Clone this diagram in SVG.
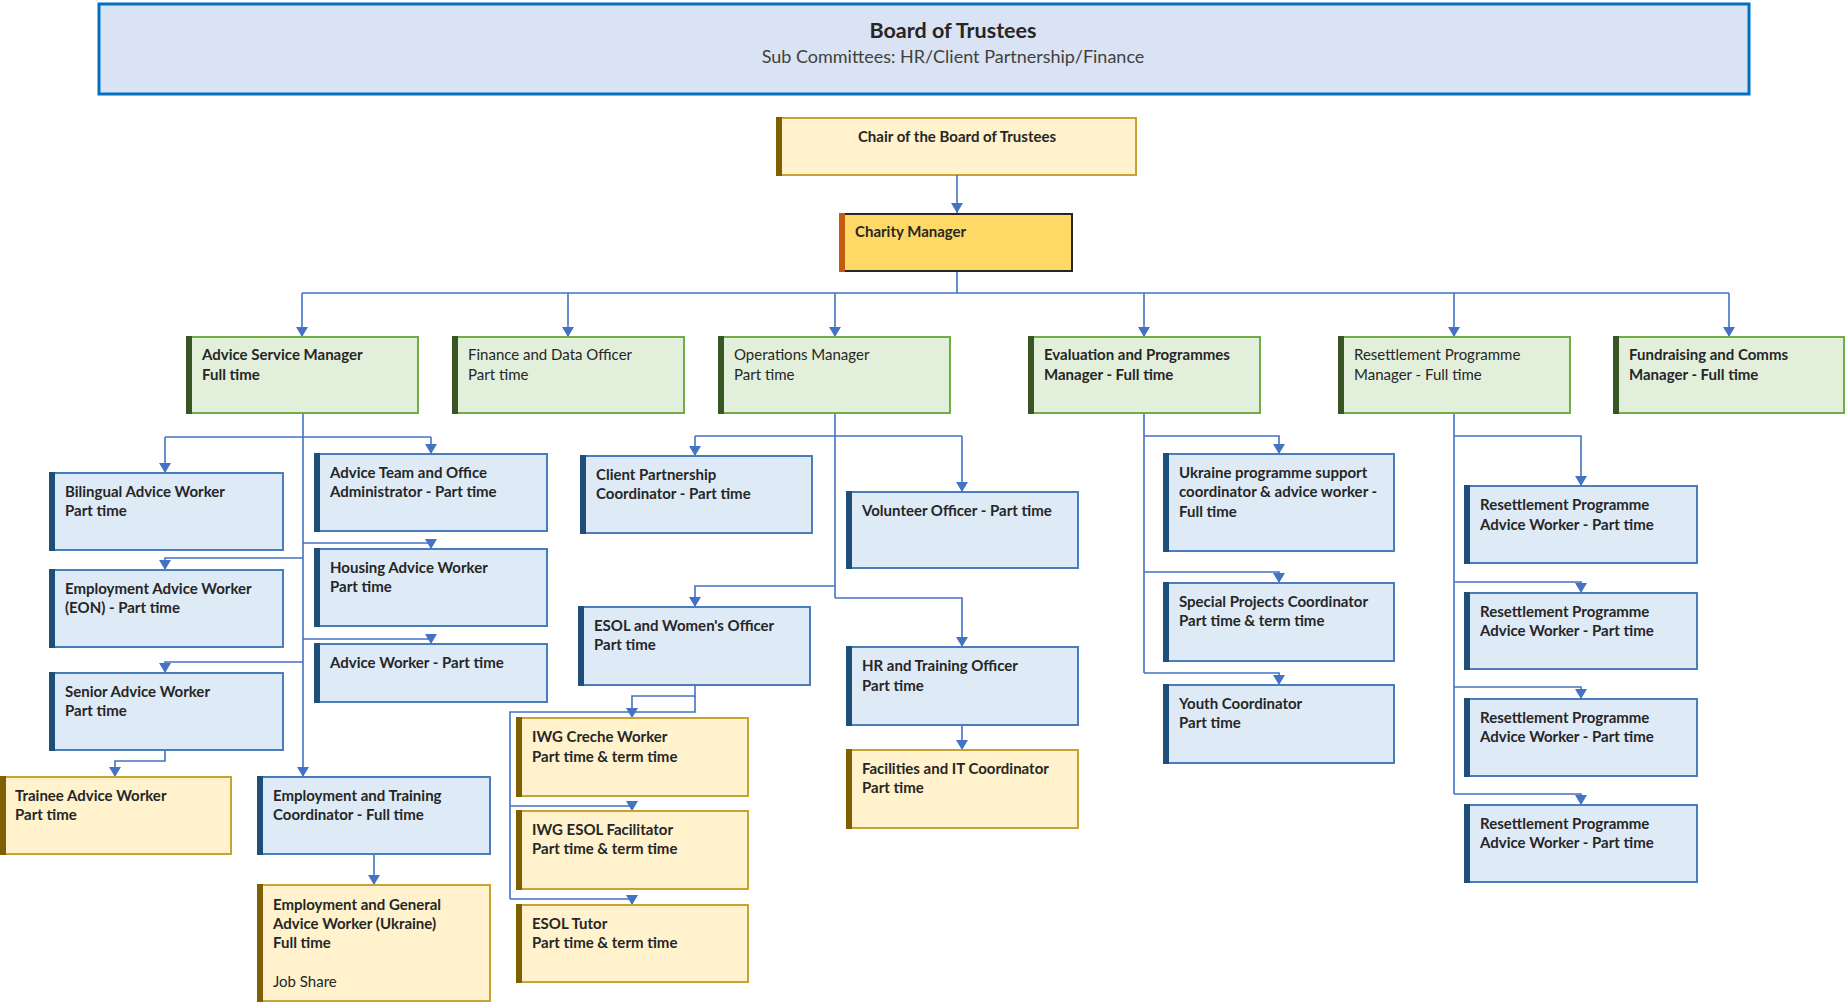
<svg xmlns="http://www.w3.org/2000/svg" width="1845" height="1003" viewBox="0 0 1845 1003">
<defs>
<marker id="arr" markerUnits="userSpaceOnUse" markerWidth="10" markerHeight="12" viewBox="0 0 10 12" refX="10" refY="6" orient="auto">
<path d="M0,0 L10,6 L0,12 Z" fill="#4472c4"/>
</marker>
<style>
text{font-family:Lato,"Liberation Sans",sans-serif;fill:#262626;font-size:15px}
.b{font-weight:bold}
.r{font-weight:normal;fill:#262626}
.green{fill:#e2efda;stroke:#70ad47;stroke-width:2}
.gbar{fill:#375623}
.blue{fill:#deeaf6;stroke:#4a7ebb;stroke-width:2}
.bbar{fill:#1f4e79}
.yel{fill:#fff2cc;stroke:#c9a234;stroke-width:2}
.ybar{fill:#7f6000}
.con path{fill:none;stroke:#4472c4;stroke-width:1.6}
.con .a{marker-end:url(#arr)}
</style>
</defs>
<rect width="1845" height="1003" fill="#ffffff"/>

<g id="board">
<rect x="99" y="4" width="1650" height="90" fill="#dae3f3" stroke="#0070c0" stroke-width="3"/>
<text x="953" y="38" text-anchor="middle" class="b" style="font-size:21.5px">Board of Trustees</text>
<text x="953" y="63" text-anchor="middle" style="font-size:18px;fill:#404040">Sub Committees: HR/Client Partnership/Finance</text>
</g>

<g id="chair">
<rect x="777" y="118" width="359" height="57" class="yel"/>
<rect x="776" y="117" width="6" height="59" class="ybar"/>
<text x="957" y="142" text-anchor="middle" class="b">Chair of the Board of Trustees</text>
</g>

<g id="charity">
<rect x="840" y="214" width="232" height="57" fill="#ffd966" stroke="#262626" stroke-width="2"/>
<rect x="839" y="213" width="6" height="59" fill="#c55a11"/>
<text x="855" y="237" class="b">Charity Manager</text>
</g>

<g class="con" id="connectors">
<path d="M957,175 V213" class="a"/>
<path d="M957,272 V293 M302,293 H1729"/>
<path d="M302,293 V337" class="a"/>
<path d="M568,293 V337" class="a"/>
<path d="M835,293 V337" class="a"/>
<path d="M1144,293 V337" class="a"/>
<path d="M1454,293 V337" class="a"/>
<path d="M1729,293 V337" class="a"/>
<!-- ASM subtree -->
<path d="M303,413 V777" class="a"/>
<path d="M165,437 H431"/>
<path d="M165,437 V473" class="a"/>
<path d="M431,437 V454" class="a"/>
<path d="M303,543 H431 V549" class="a"/>
<path d="M303,558 H165 V570" class="a"/>
<path d="M303,639 H431 V644" class="a"/>
<path d="M303,662 H165 V673" class="a"/>
<path d="M165,750 V761 H115 V777" class="a"/>
<path d="M374,854 V885" class="a"/>
<!-- Ops subtree -->
<path d="M835,413 V598"/>
<path d="M695,436 H962"/>
<path d="M695,436 V456" class="a"/>
<path d="M962,436 V492" class="a"/>
<path d="M835,586 H695 V607" class="a"/>
<path d="M835,598 H962 V647" class="a"/>
<path d="M962,725 V750" class="a"/>
<path d="M695,685 V696 H632 V718" class="a"/>
<path d="M695,696 V712 H510 V899"/>
<path d="M510,806 H632 V811" class="a"/>
<path d="M510,899 H632 V905" class="a"/>
<!-- Eval subtree -->
<path d="M1144,413 V673"/>
<path d="M1144,436 H1279 V454" class="a"/>
<path d="M1144,572 H1279 V583" class="a"/>
<path d="M1144,673 H1279 V685" class="a"/>
<!-- Resettlement subtree -->
<path d="M1454,413 V794"/>
<path d="M1454,436 H1581 V486" class="a"/>
<path d="M1454,582 H1581 V593" class="a"/>
<path d="M1454,687 H1581 V699" class="a"/>
<path d="M1454,794 H1581 V805" class="a"/>
</g>

<!-- Green managers -->
<g id="asm"><rect x="187" y="337" width="231" height="76" class="green"/><rect x="186" y="336" width="6" height="78" class="gbar"/>
<text x="202" y="360" class="b">Advice Service Manager</text><text x="202" y="380" class="b">Full time</text></g>
<g id="finance"><rect x="453" y="337" width="231" height="76" class="green"/><rect x="452" y="336" width="6" height="78" class="gbar"/>
<text x="468" y="360" class="r">Finance and Data Officer</text><text x="468" y="380" class="r">Part time</text></g>
<g id="ops"><rect x="719" y="337" width="231" height="76" class="green"/><rect x="718" y="336" width="6" height="78" class="gbar"/>
<text x="734" y="360" class="r">Operations Manager</text><text x="734" y="380" class="r">Part time</text></g>
<g id="eval"><rect x="1029" y="337" width="231" height="76" class="green"/><rect x="1028" y="336" width="6" height="78" class="gbar"/>
<text x="1044" y="360" class="b">Evaluation and Programmes</text><text x="1044" y="380" class="b">Manager - Full time</text></g>
<g id="rpm"><rect x="1339" y="337" width="231" height="76" class="green"/><rect x="1338" y="336" width="6" height="78" class="gbar"/>
<text x="1354" y="360" class="r">Resettlement Programme</text><text x="1354" y="380" class="r">Manager - Full time</text></g>
<g id="fund"><rect x="1614" y="337" width="230" height="76" class="green"/><rect x="1613" y="336" width="6" height="78" class="gbar"/>
<text x="1629" y="360" class="b">Fundraising and Comms</text><text x="1629" y="380" class="b">Manager - Full time</text></g>

<!-- Advice service team -->
<g id="bilingual"><rect x="50" y="473" width="233" height="77" class="blue"/><rect x="49" y="472" width="6" height="79" class="bbar"/>
<text x="65" y="497" class="b">Bilingual Advice Worker</text><text x="65" y="516" class="b">Part time</text></g>
<g id="eon"><rect x="50" y="570" width="233" height="77" class="blue"/><rect x="49" y="569" width="6" height="79" class="bbar"/>
<text x="65" y="594" class="b">Employment Advice Worker</text><text x="65" y="613" class="b">(EON) - Part time</text></g>
<g id="senior"><rect x="50" y="673" width="233" height="77" class="blue"/><rect x="49" y="672" width="6" height="79" class="bbar"/>
<text x="65" y="697" class="b">Senior Advice Worker</text><text x="65" y="716" class="b">Part time</text></g>
<g id="team"><rect x="315" y="454" width="232" height="77" class="blue"/><rect x="314" y="453" width="6" height="79" class="bbar"/>
<text x="330" y="478" class="b">Advice Team and Office</text><text x="330" y="497" class="b">Administrator - Part time</text></g>
<g id="housing"><rect x="315" y="549" width="232" height="77" class="blue"/><rect x="314" y="548" width="6" height="79" class="bbar"/>
<text x="330" y="573" class="b">Housing Advice Worker</text><text x="330" y="592" class="b">Part time</text></g>
<g id="adviceworker"><rect x="315" y="644" width="232" height="58" class="blue"/><rect x="314" y="643" width="6" height="60" class="bbar"/>
<text x="330" y="668" class="b">Advice Worker - Part time</text></g>
<g id="trainee"><rect x="1" y="777" width="230" height="77" class="yel"/><rect x="0" y="776" width="6" height="79" class="ybar"/>
<text x="15" y="801" class="b">Trainee Advice Worker</text><text x="15" y="820" class="b">Part time</text></g>
<g id="emptrain"><rect x="258" y="777" width="232" height="77" class="blue"/><rect x="257" y="776" width="6" height="79" class="bbar"/>
<text x="273" y="801" class="b">Employment and Training</text><text x="273" y="820" class="b">Coordinator - Full time</text></g>
<g id="empgen"><rect x="258" y="885" width="232" height="116" class="yel"/><rect x="257" y="884" width="6" height="118" class="ybar"/>
<text x="273" y="910" class="b">Employment and General</text><text x="273" y="929" class="b">Advice Worker (Ukraine)</text><text x="273" y="948" class="b">Full time</text><text x="273" y="987" class="r">Job Share</text></g>

<!-- Operations team -->
<g id="cpc"><rect x="581" y="456" width="231" height="77" class="blue"/><rect x="580" y="455" width="6" height="79" class="bbar"/>
<text x="596" y="480" class="b">Client Partnership</text><text x="596" y="499" class="b">Coordinator - Part time</text></g>
<g id="volunteer"><rect x="847" y="492" width="231" height="76" class="blue"/><rect x="846" y="491" width="6" height="78" class="bbar"/>
<text x="862" y="516" class="b">Volunteer Officer - Part time</text></g>
<g id="esol"><rect x="579" y="607" width="231" height="78" class="blue"/><rect x="578" y="606" width="6" height="80" class="bbar"/>
<text x="594" y="631" class="b">ESOL and Women's Officer</text><text x="594" y="650" class="b">Part time</text></g>
<g id="hr"><rect x="847" y="647" width="231" height="78" class="blue"/><rect x="846" y="646" width="6" height="80" class="bbar"/>
<text x="862" y="671" class="b">HR and Training Officer</text><text x="862" y="691" class="b">Part time</text></g>
<g id="facilities"><rect x="847" y="750" width="231" height="78" class="yel"/><rect x="846" y="749" width="6" height="80" class="ybar"/>
<text x="862" y="774" class="b">Facilities and IT Coordinator</text><text x="862" y="793" class="b">Part time</text></g>
<g id="iwgcreche"><rect x="517" y="718" width="231" height="78" class="yel"/><rect x="516" y="717" width="6" height="80" class="ybar"/>
<text x="532" y="742" class="b">IWG Creche Worker</text><text x="532" y="762" class="b">Part time &amp; term time</text></g>
<g id="iwgesol"><rect x="517" y="811" width="231" height="78" class="yel"/><rect x="516" y="810" width="6" height="80" class="ybar"/>
<text x="532" y="835" class="b">IWG ESOL Facilitator</text><text x="532" y="854" class="b">Part time &amp; term time</text></g>
<g id="esoltutor"><rect x="517" y="905" width="231" height="77" class="yel"/><rect x="516" y="904" width="6" height="79" class="ybar"/>
<text x="532" y="929" class="b">ESOL Tutor</text><text x="532" y="948" class="b">Part time &amp; term time</text></g>

<!-- Evaluation team -->
<g id="ukraine"><rect x="1164" y="454" width="230" height="97" class="blue"/><rect x="1163" y="453" width="6" height="99" class="bbar"/>
<text x="1179" y="478" class="b">Ukraine programme support</text><text x="1179" y="497" class="b">coordinator &amp; advice worker -</text><text x="1179" y="517" class="b">Full time</text></g>
<g id="special"><rect x="1164" y="583" width="230" height="78" class="blue"/><rect x="1163" y="582" width="6" height="80" class="bbar"/>
<text x="1179" y="607" class="b">Special Projects Coordinator</text><text x="1179" y="626" class="b">Part time &amp; term time</text></g>
<g id="youth"><rect x="1164" y="685" width="230" height="78" class="blue"/><rect x="1163" y="684" width="6" height="80" class="bbar"/>
<text x="1179" y="709" class="b">Youth Coordinator</text><text x="1179" y="728" class="b">Part time</text></g>

<!-- Resettlement team -->
<g id="rpaw1"><rect x="1465" y="486" width="232" height="77" class="blue"/><rect x="1464" y="485" width="6" height="79" class="bbar"/>
<text x="1480" y="510" class="b">Resettlement Programme</text><text x="1480" y="530" class="b">Advice Worker - Part time</text></g>
<g id="rpaw2"><rect x="1465" y="593" width="232" height="76" class="blue"/><rect x="1464" y="592" width="6" height="78" class="bbar"/>
<text x="1480" y="617" class="b">Resettlement Programme</text><text x="1480" y="636" class="b">Advice Worker - Part time</text></g>
<g id="rpaw3"><rect x="1465" y="699" width="232" height="77" class="blue"/><rect x="1464" y="698" width="6" height="79" class="bbar"/>
<text x="1480" y="723" class="b">Resettlement Programme</text><text x="1480" y="742" class="b">Advice Worker - Part time</text></g>
<g id="rpaw4"><rect x="1465" y="805" width="232" height="77" class="blue"/><rect x="1464" y="804" width="6" height="79" class="bbar"/>
<text x="1480" y="829" class="b">Resettlement Programme</text><text x="1480" y="848" class="b">Advice Worker - Part time</text></g>
</svg>
